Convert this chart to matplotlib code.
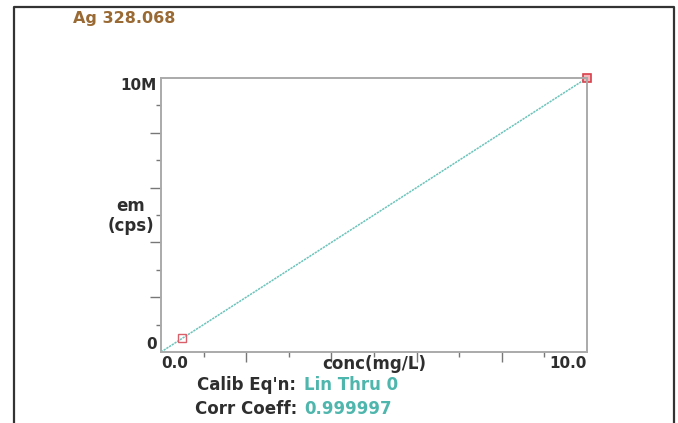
import matplotlib
matplotlib.use("Agg")
import matplotlib.pyplot as plt

# calibration standards (conc mg/L, emission cps)
conc = [0.5, 10.0]
em = [0.5e6, 10.0e6]
fit_x = [0.0, 10.0]
fit_y = [0.0, 10.0e6]

title = "Ag 328.068"
eq_name = "Lin Thru 0"
corr = "0.999997"

plt.rcParams['font.family'] = ['DejaVu Sans']
plt.rcParams['font.weight'] = 'bold'
FS = 12
DARK = '#2e2e2e'
TEAL = '#4fb6ad'

fig = plt.figure(figsize=(6.78, 4.23), dpi=100)
W, H = 678, 423

# outer frame (open at the bottom)
fig.add_artist(plt.Line2D([14/W, 14/W, 674/W, 674/W], [0, 1 - 7/H, 1 - 7/H, 0],
                          transform=fig.transFigure, color='#333333', lw=1.6))

ax = fig.add_axes([161/W, 1 - 352/H, 426/W, 274/H])
ax.plot(fit_x, fit_y, color='#6cc4bb', lw=1.1, ls=(0, (1.5, 0.6)))
ax.plot(conc[:1], em[:1], ls='none', marker='s', ms=6, mfc='none', mec='#d9606a', mew=1.0)
ax.plot(conc[1:], em[1:], ls='none', marker='s', ms=6, mfc='#f2b8bc', mec='#d9404c', mew=1.2,
        clip_on=False)

ax.set_xlim(0, 10)
ax.set_ylim(0, 10e6)
for s in ax.spines.values():
    s.set_color('#aaaaaa')
    s.set_linewidth(1.4)

ax.set_xticks([0, 10])
ax.set_xticklabels(['0.0', '10.0'])
ax.set_xticks(range(1, 10), minor=True)
ax.set_yticks([0, 10e6])
ax.set_yticklabels(['0', '10M'])
ax.set_yticks([i * 1e6 for i in range(1, 10)], minor=True)
ax.tick_params(which='both', color='#777777', width=1.0, labelsize=11, labelcolor=DARK)
ax.tick_params(which='major', length=0, pad=3)
ax.tick_params(which='minor', length=3.5)
# every second tick is longer
for i, t in enumerate(ax.xaxis.get_minor_ticks()):
    if (i + 1) % 2 == 0:
        t.tick1line.set_markersize(7)
for i, t in enumerate(ax.yaxis.get_minor_ticks()):
    if (i + 1) % 2 == 0:
        t.tick1line.set_markersize(8)

for lab in ax.get_xticklabels() + ax.get_yticklabels():
    lab.set_fontweight('bold')
xl = ax.get_xticklabels()
xl[0].set_horizontalalignment('left')
xl[1].set_horizontalalignment('right')
yl = ax.get_yticklabels()
yl[0].set_verticalalignment('bottom')
yl[1].set_verticalalignment('top')

fig.text(73/W, 1 - 18/H, title, color='#9a6a34', fontsize=11.5, fontweight='bold', va='center')
fig.text(374/W, 1 - 364/H, "conc(mg/L)", color=DARK, fontsize=FS, fontweight='bold',
         ha='center', va='center')
fig.text(131/W, 1 - 216/H, "em\n(cps)", color=DARK, fontsize=FS, fontweight='bold',
         ha='center', va='center', linespacing=1.1)

fig.text(197/W, 1 - 385/H, "Calib Eq'n:", color=DARK, fontsize=FS, fontweight='bold', va='center')
fig.text(304/W, 1 - 385/H, eq_name, color=TEAL, fontsize=FS, fontweight='bold', va='center')
fig.text(195/W, 1 - 409/H, "Corr Coeff:", color=DARK, fontsize=FS, fontweight='bold', va='center')
fig.text(304/W, 1 - 409/H, corr, color=TEAL, fontsize=FS, fontweight='bold', va='center')

fig.savefig('out.png', dpi=100)
